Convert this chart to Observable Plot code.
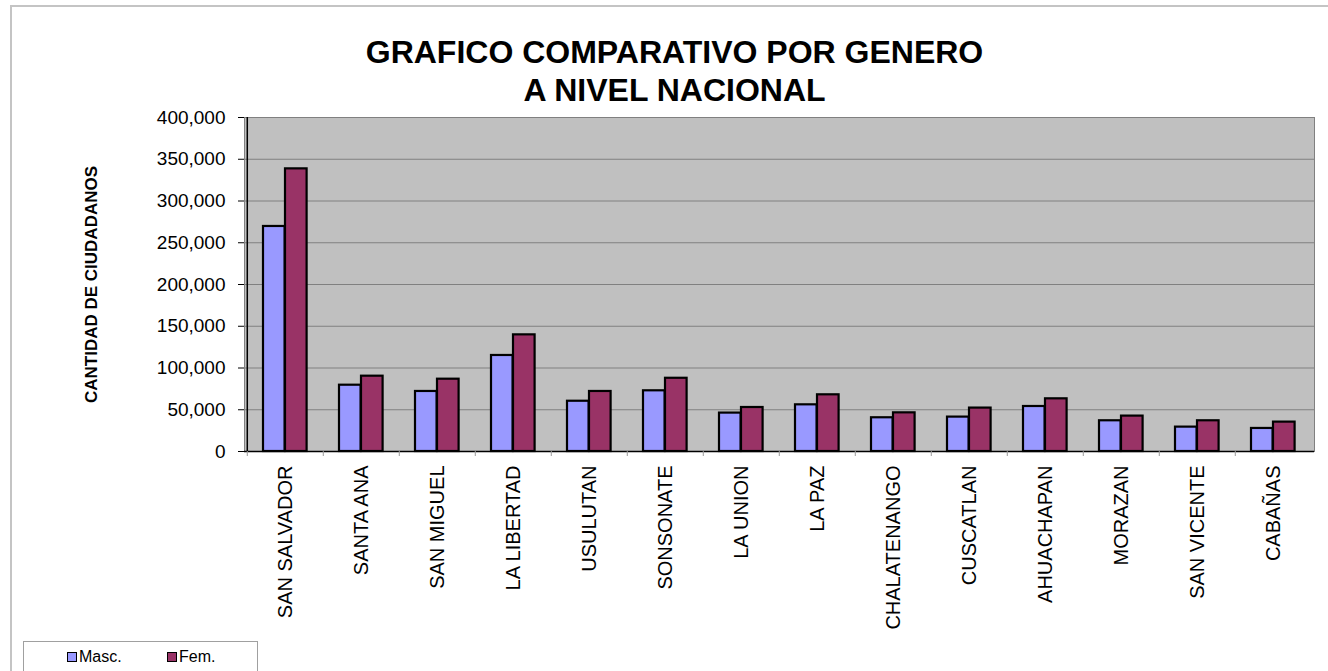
<!DOCTYPE html>
<html>
<head>
<meta charset="utf-8">
<script src="https://cdn.jsdelivr.net/npm/d3@7"></script>
<script src="https://cdn.jsdelivr.net/npm/@observablehq/plot@0.6"></script>
<style>
  html, body { margin: 0; padding: 0; background: #fff; }
  body { font-family: "Liberation Sans", Arial, sans-serif; }
  #page { position: relative; width: 1328px; height: 671px; overflow: hidden; }
  #outer { position: absolute; left: 10px; top: 5px; width: 1330px; height: 700px;
           border-left: 2px solid #c4c4c4; border-top: 2px solid #c4c4c4; box-sizing: border-box; }
  #title { position: absolute; left: 0; top: 33px; width: 1349px; text-align: center;
           font-weight: bold; font-size: 32px; line-height: 38px; color: #000; }
  #chart { position: absolute; left: 0; top: 105px; }
  #legend { position: absolute; left: 23px; top: 641px; width: 235px; height: 50px;
            border: 1px solid #a0a0a0; box-sizing: border-box; font-size: 16px; }
  .item { position: absolute; top: 6px; line-height: 18px; }
  .sw { display: inline-block; width: 8px; height: 8px; border: 1.5px solid #000; margin-right: 2px; vertical-align: 0px; }
</style>
</head>
<body>
<div id="page">
  <div id="outer"></div>
  <div id="title">GRAFICO COMPARATIVO POR GENERO<br>A NIVEL NACIONAL</div>
  <div id="chart"></div>
  <div id="legend">
    <div class="item" style="left:43px"><span class="sw" style="background:#9999ff"></span>Masc.</div>
    <div class="item" style="left:143px"><span class="sw" style="background:#993366"></span>Fem.</div>
  </div>
</div>
<script>
const departamentos = ["SAN SALVADOR","SANTA ANA","SAN MIGUEL","LA LIBERTAD","USULUTAN","SONSONATE","LA UNION","LA PAZ","CHALATENANGO","CUSCATLAN","AHUACHAPAN","MORAZAN","SAN VICENTE","CABAÑAS"];
const masculino = [269500, 79400, 71900, 115000, 60200, 72700, 46000, 55900, 40400, 41200, 53900, 36800, 29200, 27600];
const femenino  = [338500, 90200, 86600, 139700, 71900, 87700, 52700, 67900, 46300, 52000, 63100, 42400, 36800, 35200];
const yTicks = [0, 50000, 100000, 150000, 200000, 250000, 300000, 350000, 400000];

const mascData = departamentos.map((d, i) => ({depto: d, valor: masculino[i]}));
const femData = departamentos.map((d, i) => ({depto: d, valor: femenino[i]}));

const fmt = d3.format(",");
const half = (1328 - 244 - 14) / departamentos.length / 2;

const chart = Plot.plot({
  width: 1328,
  height: 530,
  marginTop: 12,
  marginLeft: 244,
  marginRight: 14,
  marginBottom: 184,
  style: {fontFamily: "'Liberation Sans', Arial, sans-serif", background: "transparent", overflow: "visible", color: "#000"},
  x: {domain: departamentos, padding: 0, label: null},
  y: {domain: [0, 400000], label: null},
  marks: [
    Plot.frame({fill: "#c0c0c0", stroke: "#808080"}),
    Plot.gridY(yTicks, {stroke: "#808080", strokeOpacity: 1, strokeWidth: 1}),
    Plot.barY(mascData, {x: "depto", y: "valor", fill: "#9999ff", stroke: "#000", strokeWidth: 2.2, insetLeft: 16, insetRight: 38.4}),
    Plot.barY(femData, {x: "depto", y: "valor", fill: "#993366", stroke: "#000", strokeWidth: 2.2, insetLeft: 38, insetRight: 16.4}),
    Plot.ruleY([0], {stroke: "#000", strokeWidth: 1.5}),
    Plot.ruleX([departamentos[0]], {x: d => d, dx: -half, stroke: "#000", strokeWidth: 1.5}),
    Plot.axisY(yTicks, {tickSize: 6, tickPadding: 13, tickFormat: fmt, fontSize: 19, label: null}),
    Plot.axisY([], {label: "CANTIDAD DE CIUDADANOS", labelArrow: "none", labelAnchor: "center", labelOffset: 160,
      fontSize: 17, fontWeight: "bold"}),
    Plot.axisX({tickSize: 0, tickPadding: 14, tickRotate: -90, fontSize: 20, label: null}),
    Plot.axisX({tickSize: 5, tickFormat: () => "", dx: -half, stroke: "#999", label: null})
  ]
});
document.getElementById("chart").appendChild(chart);
</script>
</body>
</html>
